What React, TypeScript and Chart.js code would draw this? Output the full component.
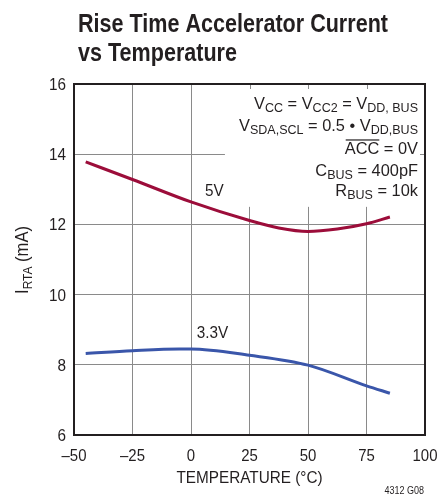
import React, { useEffect, useRef } from "react";
import { Chart, registerables } from "chart.js";

Chart.register(...registerables);

const temps5V = [-45, -25, 0, 25, 37.5, 50, 62.5, 75, 85];
const current5V = [13.78, 13.28, 12.64, 12.11, 11.9, 11.8, 11.87, 12.02, 12.21];
const temps33V = [-45, -25, -5, 0, 25, 50, 75, 85];
const current33V = [8.32, 8.4, 8.45, 8.45, 8.27, 7.99, 7.4, 7.19];
const xTicks = [-50, -25, 0, 25, 50, 75, 100];
const yTicks = [6, 8, 10, 12, 14, 16];

const FONT = "'Liberation Sans', Arial, Helvetica, sans-serif";
const RED = "#9c0d3a";
const BLUE = "#3a56aa";
const INK = "#231f20";

type Seg = { t: string; sub?: boolean; over?: boolean };

function richWidth(ctx: CanvasRenderingContext2D, segs: Seg[], size: number, subSize: number) {
  return segs.map((s) => {
    ctx.font = `${s.sub ? subSize : size}px ${FONT}`;
    return ctx.measureText(s.t).width;
  });
}

function drawRich(
  ctx: CanvasRenderingContext2D,
  segs: Seg[],
  x: number,
  y: number,
  align: "left" | "right" | "center",
  size: number,
  subSize: number,
  sx: number
) {
  const widths = richWidth(ctx, segs, size, subSize);
  const total = widths.reduce((a, b) => a + b, 0);
  ctx.save();
  ctx.translate(x, y);
  ctx.scale(sx, 1);
  let cx = align === "left" ? 0 : align === "right" ? -total : -total / 2;
  ctx.textBaseline = "alphabetic";
  ctx.textAlign = "left";
  segs.forEach((s, i) => {
    ctx.font = `${s.sub ? subSize : size}px ${FONT}`;
    const yy = s.sub ? size * 0.2 : 0;
    ctx.fillText(s.t, cx, yy);
    if (s.over) {
      ctx.fillRect(cx + 1, -size * 0.86, widths[i] - 1, 1.2);
    }
    cx += widths[i];
  });
  ctx.restore();
}

function drawText(
  ctx: CanvasRenderingContext2D,
  text: string,
  x: number,
  y: number,
  align: "left" | "right" | "center",
  font: string,
  sx: number
) {
  ctx.save();
  ctx.translate(x, y);
  ctx.scale(sx, 1);
  ctx.font = font;
  ctx.textAlign = align;
  ctx.textBaseline = "alphabetic";
  ctx.fillText(text, 0, 0);
  ctx.restore();
}

const decorPlugin = {
  id: "decor",
  beforeDatasetsDraw(chart: any) {
    const ctx: CanvasRenderingContext2D = chart.ctx;
    const xs = chart.scales.x;
    const ys = chart.scales.y;
    const area = chart.chartArea;
    ctx.save();
    const bx = xs.getPixelForValue(14.5);
    const by = ys.getPixelForValue(12.5);
    ctx.fillStyle = "#ffffff";
    ctx.fillRect(bx, area.top + 1, area.right - bx - 1, by - area.top - 1);
    ctx.strokeStyle = "#8a8a8a";
    ctx.lineWidth = 1;
    [25, 50, 75].forEach((v) => {
      const px = Math.round(xs.getPixelForValue(v)) + 0.5;
      ctx.beginPath();
      ctx.moveTo(px, area.top);
      ctx.lineTo(px, area.top + 5);
      ctx.stroke();
    });
    const py = Math.round(ys.getPixelForValue(14)) + 0.5;
    ctx.beginPath();
    ctx.moveTo(area.right - 5, py);
    ctx.lineTo(area.right, py);
    ctx.stroke();
    ctx.restore();
  },
  afterDatasetsDraw(chart: any) {
    const ctx: CanvasRenderingContext2D = chart.ctx;
    const area = chart.chartArea;
    ctx.save();
    ctx.strokeStyle = INK;
    ctx.lineWidth = 2;
    ctx.strokeRect(area.left, area.top, area.right - area.left, area.bottom - area.top);
    ctx.restore();
  },
  afterDraw(chart: any) {
    const ctx: CanvasRenderingContext2D = chart.ctx;
    const xs = chart.scales.x;
    const ys = chart.scales.y;
    const area = chart.chartArea;
    ctx.save();
    ctx.fillStyle = INK;
    // title
    const tFont = `bold 26px ${FONT}`;
    ctx.font = tFont;
    const tsx = 310 / ctx.measureText("Rise Time Accelerator Current").width;
    drawText(ctx, "Rise Time Accelerator Current", 78, 32, "left", tFont, tsx);
    drawText(ctx, "vs Temperature", 78, 61, "left", tFont, tsx);

    // annotation block
    const line1: Seg[] = [{ t: "V" }, { t: "CC", sub: true }, { t: " = V" }, { t: "CC2", sub: true }, { t: " = V" }, { t: "DD, BUS", sub: true }];
    const w1 = richWidth(ctx, line1, 17, 13).reduce((a, b) => a + b, 0);
    const asx = 164 / w1;
    const rx = 418;
    drawRich(ctx, line1, rx, 109, "right", 17, 13, asx);
    drawRich(ctx, [{ t: "V" }, { t: "SDA,SCL", sub: true }, { t: " = 0.5 • V" }, { t: "DD,BUS", sub: true }], rx, 131, "right", 17, 13, asx);
    drawRich(ctx, [{ t: "ACC", over: true }, { t: " = 0V" }], rx, 154, "right", 17, 13, asx);
    drawRich(ctx, [{ t: "C" }, { t: "BUS", sub: true }, { t: " = 400pF" }], rx, 176, "right", 17, 13, asx);
    drawRich(ctx, [{ t: "R" }, { t: "BUS", sub: true }, { t: " = 10k" }], rx, 196, "right", 17, 13, asx);

    // curve labels
    const lFont = `17px ${FONT}`;
    drawText(ctx, "5V", xs.getPixelForValue(6), ys.getPixelForValue(12.8), "left", lFont, 0.9);
    drawText(ctx, "3.3V", xs.getPixelForValue(2.5), ys.getPixelForValue(8.77), "left", lFont, 0.9);

    // tick labels
    const tickFont = `17px ${FONT}`;
    xTicks.forEach((v) => {
      const lbl = v < 0 ? "\u2013" + Math.abs(v) : String(v);
      drawText(ctx, lbl, xs.getPixelForValue(v), 461, "center", tickFont, 0.88);
    });
    yTicks.forEach((v) => {
      drawText(ctx, String(v), area.left - 8, ys.getPixelForValue(v) + 6, "right", tickFont, 0.9);
    });

    // y axis title
    ctx.save();
    ctx.translate(28, 260);
    ctx.rotate(-Math.PI / 2);
    drawRich(ctx, [{ t: "I" }, { t: "RTA", sub: true }, { t: " (mA)" }], 0, 0, "center", 18, 13, 0.92);
    ctx.restore();

    // x axis title
    drawText(ctx, "TEMPERATURE (°C)", (area.left + area.right) / 2, 483, "center", `17px ${FONT}`, 0.9);

    // figure id
    drawText(ctx, "4312 G08", 424, 494, "right", `10px ${FONT}`, 0.9);
    ctx.restore();
  },
};

export default function App() {
  const ref = useRef<HTMLCanvasElement | null>(null);
  useEffect(() => {
    if (!ref.current) return;
    const chart = new Chart(ref.current, {
      type: "line",
      data: {
        datasets: [
          {
            label: "5V",
            data: temps5V.map((t, i) => ({ x: t, y: current5V[i] })),
            borderColor: RED,
            borderWidth: 3,
            pointRadius: 0,
            cubicInterpolationMode: "monotone",
            fill: false,
          },
          {
            label: "3.3V",
            data: temps33V.map((t, i) => ({ x: t, y: current33V[i] })),
            borderColor: BLUE,
            borderWidth: 3,
            pointRadius: 0,
            cubicInterpolationMode: "monotone",
            fill: false,
          },
        ],
      },
      options: {
        animation: false,
        responsive: false,
        devicePixelRatio: 1,
        layout: { padding: { left: 0, right: 15, top: 84, bottom: 0 } },
        plugins: { legend: { display: false }, tooltip: { enabled: false } },
        scales: {
          x: {
            type: "linear",
            min: -50,
            max: 100,
            afterBuildTicks: (s: any) => {
              s.ticks = xTicks.map((v) => ({ value: v }));
            },
            afterFit: (s: any) => {
              s.height = 67;
            },
            grid: { color: "#8a8a8a", lineWidth: 1, drawTicks: false },
            border: { color: INK, width: 2 },
            ticks: { display: false },
          },
          y: {
            type: "linear",
            min: 6,
            max: 16,
            afterBuildTicks: (s: any) => {
              s.ticks = yTicks.map((v) => ({ value: v }));
            },
            afterFit: (s: any) => {
              s.width = 74;
            },
            grid: { color: "#8a8a8a", lineWidth: 1, drawTicks: false },
            border: { color: INK, width: 2 },
            ticks: { display: false },
          },
        },
      },
      plugins: [decorPlugin],
    } as any);
    return () => chart.destroy();
  }, []);
  return (
    <div style={{ position: "absolute", left: 0, top: 0, width: 440, height: 502, background: "#fff" }}>
      <canvas ref={ref} width={440} height={502} style={{ width: 440, height: 502, display: "block" }} />
    </div>
  );
}
